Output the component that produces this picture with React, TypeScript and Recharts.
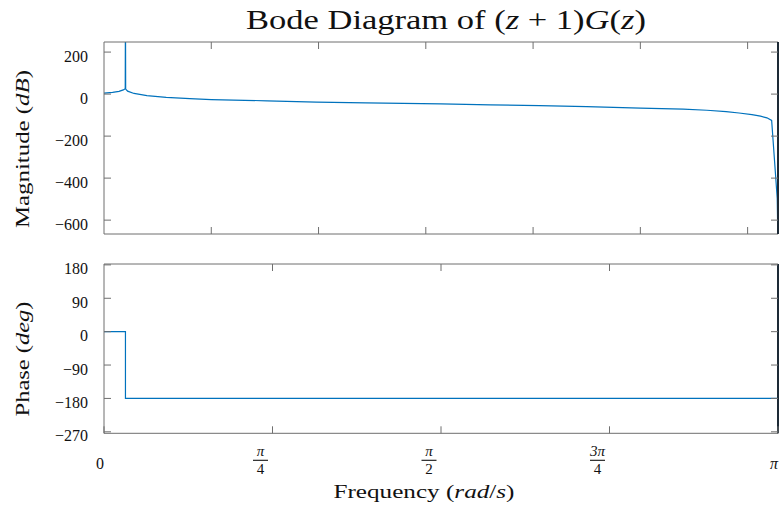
import React from 'react';
import { Line, LineChart, XAxis, YAxis } from 'recharts';

const PI = Math.PI;

// magnitude curve (rad/s, dB)
const magFreq = [0, 0.04, 0.07, 0.09, 0.099, 0.1, 0.101, 0.11, 0.14, 0.2, 0.29, 0.4, 0.5, 0.76, 0.99, 1.22, 1.57, 1.8, 2.03, 2.25, 2.5, 2.7, 2.81, 2.9, 2.96, 3.02, 3.06, 3.09, 3.112, 3.138, PI];
const magDb = [5, 8, 13, 20, 26, 420, 24, 14, 3, -7, -16, -22, -26, -32, -38, -42, -47, -51, -55, -60, -67, -72, -77, -83, -90, -98, -105, -113, -125, -497, -720];

// phase curve (rad/s, deg)
const phaseFreq = [0, 0.1, 0.1, PI];
const phaseDeg = [0, 0, -180, -180];

const magTicks = [-600, -400, -200, 0, 200];
const phaseTicks = [-270, -180, -90, 0, 90, 180];
const magFreqTicks = [0.5, 1, 1.5, 2, 2.5, 3];
const phaseFreqTicks = [0, PI / 4, PI / 2, (3 * PI) / 4, PI];
const phaseFreqNum = ['0', 'π', 'π', '3π', 'π'];
const phaseFreqDen = ['', '4', '2', '4', ''];

const MAG_DOMAIN: [number, number] = [-666, 248];
const PHASE_DOMAIN: [number, number] = [-274, 182.4];
const FREQ_DOMAIN: [number, number] = [0, PI];

const FONT = '"Liberation Serif", "DejaVu Serif", serif';
const AXIS = '#6f6f6f';
const EDGE = '#1d2a36';
const LINE = '#0072BD';
const TICK = 7;
const TICK_FONT = 16;
const FRAC_FONT = 15;

const magData = magFreq.map((f, i) => ({ f, v: magDb[i] }));
const phaseData = phaseFreq.map((f, i) => ({ f, v: phaseDeg[i] }));

const fmt = (v: number) => (v < 0 ? '\u2212' + Math.abs(v) : String(v));

// ticks point into the box, labels stay outside (MATLAB style)
const leftTick = (p: any) => (
    <g>
        <line x1={p.x} y1={p.y} x2={p.x + TICK} y2={p.y} stroke={AXIS} />
        <text x={p.x - 16} y={p.y + 4} dy="0.35em" textAnchor="end" fontFamily={FONT} fontSize={TICK_FONT} fill="#111">
            {fmt(p.payload.value)}
        </text>
    </g>
);

const rightTick = (p: any) => <line x1={p.x} y1={p.y} x2={p.x - TICK} y2={p.y} stroke={AXIS} />;
const topTick = (p: any) => <line x1={p.x} y1={p.y} x2={p.x} y2={p.y + TICK} stroke={AXIS} />;
const bottomTick = (p: any) => <line x1={p.x} y1={p.y} x2={p.x} y2={p.y - TICK} stroke={AXIS} />;

const freqTick = (p: any) => {
    const i = p.index;
    const ends = i === 0 || i === phaseFreqNum.length - 1;
    const x = p.x + (ends ? -4 : -12);
    return (
        <g>
            <line x1={p.x} y1={p.y} x2={p.x} y2={p.y - TICK} stroke={AXIS} />
            {ends ? (
                <text x={x} y={p.y + 30} dy="0.35em" textAnchor="middle" fontFamily={FONT} fontSize={TICK_FONT} fontStyle={i === 0 ? 'normal' : 'italic'} fill="#111">
                    {phaseFreqNum[i]}
                </text>
            ) : (
                <g>
                    <text x={x} y={p.y + 23} textAnchor="middle" fontFamily={FONT} fontSize={FRAC_FONT} fontStyle="italic" fill="#111">
                        {phaseFreqNum[i]}
                    </text>
                    <line x1={x - 7.5} x2={x + 7.5} y1={p.y + 27} y2={p.y + 27} stroke="#111" strokeWidth={1.1} />
                    <text x={x} y={p.y + 41} textAnchor="middle" fontFamily={FONT} fontSize={FRAC_FONT} fill="#111">
                        {phaseFreqDen[i]}
                    </text>
                </g>
            )}
        </g>
    );
};

const MAG_MARGIN = { top: 41, right: 0, bottom: 5, left: 0 };
const PHASE_MARGIN = { top: 13, right: 0, bottom: 71.7, left: 0 };

export default function App() {
    return (
        <div style={{ position: 'absolute', left: 0, top: 0, width: 779, height: 506, background: '#fff' }}>
            <div style={{ position: 'absolute', left: 0, top: 0 }}>
                <LineChart width={779} height={240} data={magData} margin={MAG_MARGIN}>
                    <XAxis xAxisId="b" dataKey="f" type="number" domain={FREQ_DOMAIN} ticks={magFreqTicks} interval={0}
                        height={1} tickSize={0} tickMargin={0} tickLine={false} tick={bottomTick} stroke={AXIS} allowDataOverflow />
                    <XAxis xAxisId="t" orientation="top" dataKey="f" type="number" domain={FREQ_DOMAIN} ticks={magFreqTicks} interval={0}
                        height={1} tickSize={0} tickMargin={0} tickLine={false} tick={topTick} stroke={AXIS} allowDataOverflow />
                    <YAxis yAxisId="l" type="number" domain={MAG_DOMAIN} ticks={magTicks} interval={0} width={104}
                        tickSize={0} tickMargin={0} tickLine={false} tick={leftTick} stroke={AXIS} allowDataOverflow />
                    <YAxis yAxisId="r" orientation="right" type="number" domain={MAG_DOMAIN} ticks={magTicks} interval={0} width={1}
                        tickSize={0} tickMargin={0} tickLine={false} tick={rightTick} stroke={EDGE} strokeWidth={2} allowDataOverflow />
                    <Line xAxisId="b" yAxisId="l" type="linear" dataKey="v" stroke={LINE} strokeWidth={1.2} dot={false} isAnimationActive={false} />
                </LineChart>
            </div>
            <div style={{ position: 'absolute', left: 0, top: 250 }}>
                <LineChart width={779} height={256} data={phaseData} margin={PHASE_MARGIN}>
                    <XAxis xAxisId="b" dataKey="f" type="number" domain={FREQ_DOMAIN} ticks={phaseFreqTicks} interval={0}
                        height={1} tickSize={0} tickMargin={0} tickLine={false} tick={freqTick} stroke={AXIS} allowDataOverflow />
                    <XAxis xAxisId="t" orientation="top" dataKey="f" type="number" domain={FREQ_DOMAIN} ticks={phaseFreqTicks.slice(1, 4)} interval={0}
                        height={1} tickSize={0} tickMargin={0} tickLine={false} tick={topTick} stroke={AXIS} allowDataOverflow />
                    <YAxis yAxisId="l" type="number" domain={PHASE_DOMAIN} ticks={phaseTicks} interval={0} width={104}
                        tickSize={0} tickMargin={0} tickLine={false} tick={leftTick} stroke={AXIS} allowDataOverflow />
                    <YAxis yAxisId="r" orientation="right" type="number" domain={PHASE_DOMAIN} ticks={phaseTicks} interval={0} width={1}
                        tickSize={0} tickMargin={0} tickLine={false} tick={rightTick} stroke={EDGE} strokeWidth={2} allowDataOverflow />
                    <Line xAxisId="b" yAxisId="l" type="linear" dataKey="v" stroke={LINE} strokeWidth={1.2} dot={false} isAnimationActive={false} />
                </LineChart>
            </div>
            <svg width={779} height={506} style={{ position: 'absolute', left: 0, top: 0, pointerEvents: 'none' }}>
                <text x={446} y={29} textAnchor="middle" fontFamily={FONT} fontSize={28} fill="#111" textLength={400} lengthAdjust="spacingAndGlyphs">
                    Bode Diagram of (<tspan fontStyle="italic">z</tspan> + 1)<tspan fontStyle="italic">G</tspan>(<tspan fontStyle="italic">z</tspan>)
                </text>
                <text x={0} y={0} transform="translate(29,149) rotate(-90)" textAnchor="middle" fontFamily={FONT} fontSize={19} fill="#111" textLength={158} lengthAdjust="spacingAndGlyphs">
                    Magnitude (<tspan fontStyle="italic">dB</tspan>)
                </text>
                <text x={0} y={0} transform="translate(29,359) rotate(-90)" textAnchor="middle" fontFamily={FONT} fontSize={19} fill="#111" textLength={115} lengthAdjust="spacingAndGlyphs">
                    Phase (<tspan fontStyle="italic">deg</tspan>)
                </text>
                <text x={424} y={498} textAnchor="middle" fontFamily={FONT} fontSize={19} fill="#111" textLength={181} lengthAdjust="spacingAndGlyphs">
                    Frequency (<tspan fontStyle="italic">rad</tspan>/<tspan fontStyle="italic">s</tspan>)
                </text>
            </svg>
        </div>
    );
}
